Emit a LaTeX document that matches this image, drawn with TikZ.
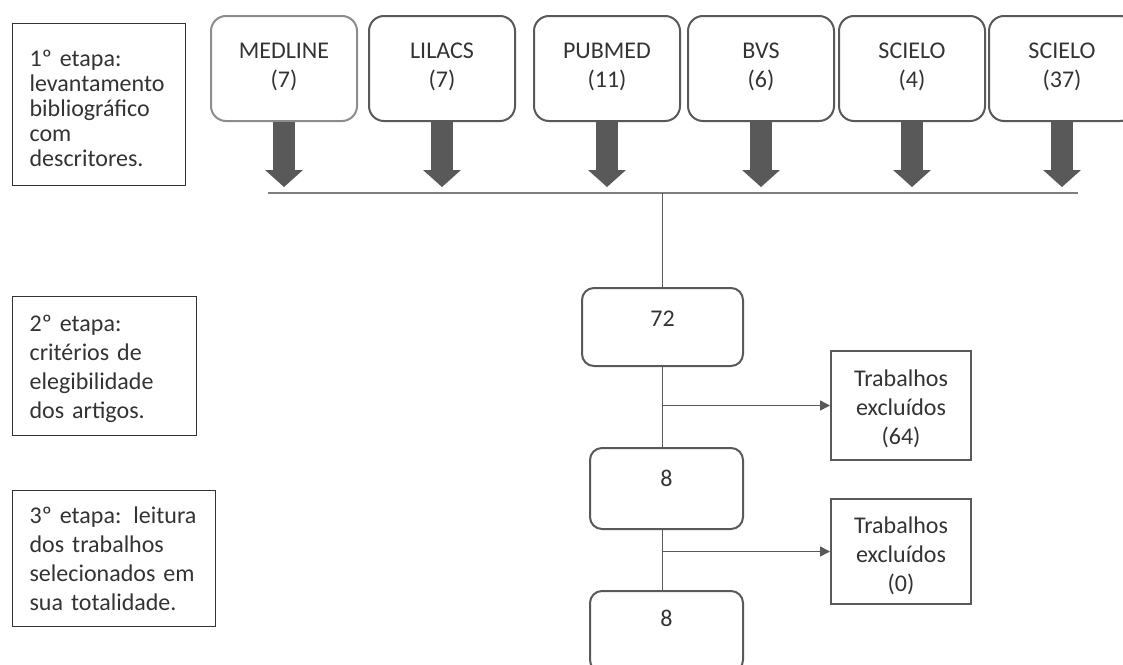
\documentclass[tikz,border=0pt]{standalone}
\usepackage{fontspec}
\setmainfont{Carlito}
\usetikzlibrary{arrows.meta,positioning}
\definecolor{txtgray}{HTML}{333333}
\definecolor{boxgray}{HTML}{595959}
\definecolor{softgray}{HTML}{8C8C8C}
\definecolor{linegray}{HTML}{7F7F7F}
\tikzset{
    every node/.style={text=txtgray, font=\fontsize{24}{29}\selectfont},
    etapa/.style={draw=txtgray, line width=1.2pt, anchor=north west, align=left, inner xsep=17pt, inner ysep=0pt},
    base/.style={draw=boxgray, line width=2pt, rounded corners=15pt, anchor=north, align=center, text width=130pt, inner xsep=8pt, inner ysep=0pt, text height=42pt, text depth=63pt},
    total/.style={draw=boxgray, line width=2pt, rounded corners=12pt, anchor=north, inner sep=0pt},
    excl/.style={draw=boxgray, line width=2pt, anchor=north west, align=center, text width=124pt, inner xsep=8pt, inner ysep=0pt},
    bigarrow/.style={draw=boxgray, line width=22pt, -{Triangle[width=38pt,length=17pt,line width=0pt]}},
    link/.style={draw=boxgray, line width=1.5pt},
    bus/.style={draw=linegray, line width=2pt},
    toexcl/.style={-{Triangle[width=10pt,length=10pt]}}
}

\begin{document}
\begin{tikzpicture}[x=1pt,y=-1pt]
    \useasboundingbox (0,0) rectangle (1123,664);
    \clip (0,0) rectangle (1123,664);

    % etapas
    \node (etapa1) at (12,23) [etapa, text width=139pt, text height=43pt, text depth=119pt, font=\fontsize{24}{25}\selectfont]
        {1º etapa:\\levantamento\\bibliográfico\\com\\descritores.};
    \node (etapa2) at (12,296) [etapa, text width=150pt, text height=35pt, text depth=104pt]
        {2º etapa:\\critérios de\\elegibilidade\\dos artigos.};
    \node (etapa3) at (12,490) [etapa, text width=169pt, text height=33pt, text depth=103pt]
        {3º etapa: leitura\\dos trabalhos\\selecionados em\\sua totalidade.};

    % bases
    \node (medline) at (284,15) [base, draw=softgray] {MEDLINE\\(7)};
    \node (lilacs) at (442,15) [base] {LILACS\\(7)};
    \node (pubmed) at (607,15) [base] {PUBMED\\(11)};
    \node (bvs) at (761,15) [base] {BVS\\(6)};
    \node (scielo) at (912,15) [base] {SCIELO\\(4)};
    \node (scieloB) at (1062,15) [base] {SCIELO\\(37)};

    % contagens
    \node (box72) at (662.5,287) [total, minimum width=161pt, text height=38pt, text depth=40pt] {72};
    \node (box8a) at (666.5,447) [total, minimum width=153pt, text height=38pt, text depth=43pt] {8};
    \node (box8b) at (666.5,590) [total, minimum width=153pt, text height=35pt, text depth=46pt] {8};
    \node (excl1) at (830,350) [excl, text height=35pt, text depth=74pt] {Trabalhos\\excluídos\\(64)};
    \node (excl2) at (830,498) [excl, text height=34pt, text depth=71pt] {Trabalhos\\excluídos\\(0)};

    \coordinate (busL) at (268,193);
    \coordinate (busR) at (1078,193);
    \coordinate (tips) at (0,187);

    \foreach \s in {medline,lilacs,pubmed,bvs,scielo,scieloB}
        \draw[bigarrow] (\s.south) -- (\s.south |- tips);
    \draw[bus] (busL) -- (busR);
    \draw[link] (box72.north |- busL) -- (box72.north);
    \draw[link] (box72.south) -- (box72.south |- box8a.north);
    \draw[link] (box72.south |- box8a.south) -- (box72.south |- box8b.north);
    \draw[link, toexcl] (box72.south |- excl1.west) -- (excl1.west);
    \draw[link, toexcl] (box72.south |- excl2.west) -- (excl2.west);
\end{tikzpicture}
\end{document}
